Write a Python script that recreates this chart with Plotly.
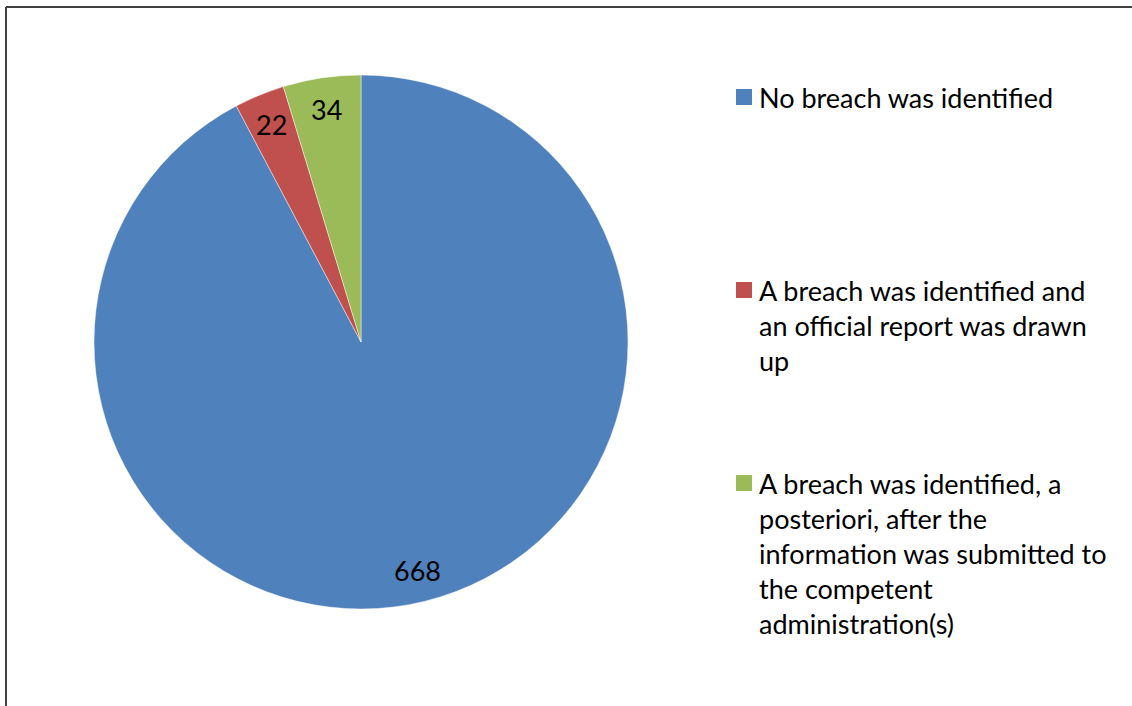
import math
import plotly.graph_objects as go

# Outcome of checks and number of cases for each
labels = [
    "No breach was identified",
    "A breach was identified and an official report was drawn up",
    "A breach was identified, a posteriori, after the information was submitted to the competent administration(s)",
]
# legend text as it is wrapped on the chart
legend_lines = [
    ["No breach was identified"],
    ["A breach was identified and", "an official report was drawn", "up"],
    ["A breach was identified, a", "posteriori, after the",
     "information was submitted to", "the competent", "administration(s)"],
]
values = [668, 22, 34]
colors = ["#4F81BD", "#C0504D", "#9BBB59"]

W, H = 1132, 706
FONT = "Lato, 'Open Sans', sans-serif"
FS = 27

# pie placement in pixels
CX, CY, R = 361, 342, 267


def px(x):
    return x / W


def py(y):
    return 1 - y / H


fig = go.Figure(
    go.Pie(
        labels=labels,
        values=values,
        sort=False,
        direction="clockwise",
        rotation=0,
        marker=dict(colors=colors, line=dict(color="rgba(255,255,255,0.6)", width=0.75)),
        textinfo="none",
        domain=dict(x=[px(CX - R), px(CX + R)], y=[py(CY + R), py(CY - R)]),
        hoverinfo="label+value",
        showlegend=False,
    )
)

# value labels placed near the rim, at each slice's middle angle
total = sum(values)
start = 0.0
for v in values:
    mid = start + v / total * 360 / 2
    start += v / total * 360
    a = math.radians(mid)
    lx = CX + 0.88 * R * math.sin(a)
    ly = CY - 0.88 * R * math.cos(a)
    fig.add_annotation(x=px(lx), y=py(ly), xref="paper", yref="paper",
                       text=str(v), showarrow=False,
                       xanchor="center", yanchor="middle",
                       font=dict(family=FONT, size=FS, color="black"))

# legend: evenly spaced entries with wrapped text
entry_y = [97, 290, 483]
for lines, col, y in zip(legend_lines, colors, entry_y):
    fig.add_shape(type="rect", xref="paper", yref="paper",
                  x0=px(736), x1=px(752), y0=py(y + 8), y1=py(y - 8),
                  fillcolor=col, line=dict(width=0))
    fig.add_annotation(x=px(757), y=py(y - 18.5), xref="paper", yref="paper",
                       text="<br>".join(lines), showarrow=False, align="left",
                       xanchor="left", yanchor="top",
                       font=dict(family=FONT, size=FS, color="black"))

# chart frame (left and top edges)
frame = dict(color="#404040", width=2)
fig.add_shape(type="line", xref="paper", yref="paper",
              x0=px(6), x1=px(6), y0=-0.01, y1=py(7), line=frame)
fig.add_shape(type="line", xref="paper", yref="paper",
              x0=px(6), x1=1.01, y0=py(7), y1=py(7), line=frame)

fig.update_layout(
    width=W,
    height=H,
    margin=dict(l=0, r=0, t=0, b=0),
    paper_bgcolor="white",
    plot_bgcolor="white",
    font=dict(family=FONT, size=FS, color="black"),
    showlegend=False,
)

fig.write_html("out.html")
